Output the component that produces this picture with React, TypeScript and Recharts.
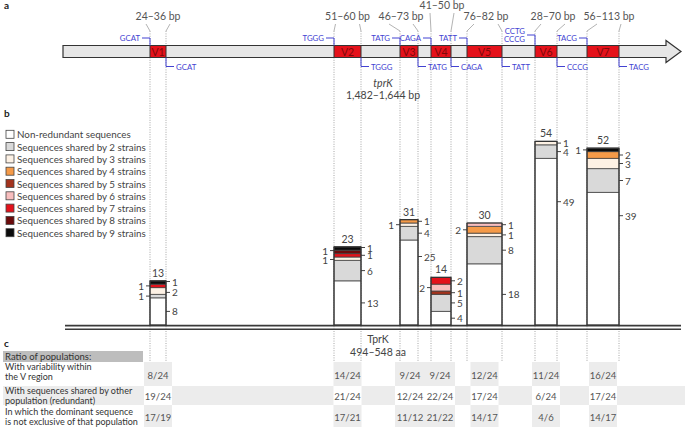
import { ComposedChart, ReferenceArea, XAxis, YAxis } from "recharts";

const FONT = "Lato, 'Open Sans', sans-serif";
const INK = "#444";
const BLUE = "#4343d2";

// gene layout: V regions along the tprK schematic (diagram units)
const regions = ["V1", "V2", "V3", "V4", "V5", "V6", "V7"];
const regionStart = [150, 334, 400, 431, 467, 535, 587];
const regionEnd = [166, 361, 418, 451, 502, 557, 619];
const regionSizes = ["24–36 bp", "51–60 bp", "46–73 bp", "41–50 bp", "76–82 bp", "28–70 bp", "56–113 bp"];
const motifBefore = [["GCAT"], ["TGGG"], ["TATG"], ["CAGA"], ["TATT"], ["CCTG", "CCCG"], ["TACG"]];
const motifAfter = ["GCAT", "TGGG", "TATG", "CAGA", "TATT", "CCCG", "TACG"];

// number of sequences per V region, split by how many strains share them
const nonRedundant = [8, 13, 25, 4, 18, 49, 39];
const sharedBy2 = [1, 6, 4, 5, 8, 4, 7];
const sharedBy3 = [2, 1, 1, 0, 1, 1, 3];
const sharedBy4 = [0, 0, 1, 0, 2, 0, 2];
const sharedBy5 = [0, 0, 0, 1, 0, 0, 0];
const sharedBy6 = [0, 0, 0, 2, 1, 0, 0];
const sharedBy7 = [1, 1, 0, 2, 0, 0, 0];
const sharedBy8 = [0, 1, 0, 0, 0, 0, 0];
const sharedBy9 = [1, 1, 0, 0, 0, 0, 1];

const shareNames = [
  "Non-redundant sequences",
  "Sequences shared by 2 strains",
  "Sequences shared by 3 strains",
  "Sequences shared by 4 strains",
  "Sequences shared by 5 strains",
  "Sequences shared by 6 strains",
  "Sequences shared by 7 strains",
  "Sequences shared by 8 strains",
  "Sequences shared by 9 strains",
];
const shareColors = ["#ffffff", "#d9d9d9", "#fdf1e4", "#f59a48", "#a3331d", "#f8bebe", "#e3121b", "#6b0b0b", "#0b0b0b"];

// table (panel c)
const rowLabels = [
  ["With variability within", "the V region"],
  ["With sequences shared by other", "population (redundant)"],
  ["In which the dominant sequence", "is not exclusive of that population"],
];
const withVariability = ["8/24", "14/24", "9/24", "9/24", "12/24", "11/24", "16/24"];
const sharedByOther = ["19/24", "21/24", "12/24", "22/24", "17/24", "6/24", "17/24"];
const dominantNotExclusive = ["17/19", "17/21", "11/12", "21/22", "14/17", "4/6", "14/17"];

// which stacked segments get their count written on the left side, and label nudges (px)
const leftSide: Record<string, number[]> = { V1: [2, 7], V2: [3, 8], V3: [3], V4: [6], V5: [4], V7: [9] };
const labelNudge: Record<string, number> = {
  "V1-9": -1,
  "V1-3": 1.4,
  "V2-9": -1,
  "V2-8": -1.3,
  "V2-3": 0.8,
  "V3-1": -26,
  "V6-1": -40,
  "V7-1": -43,
};
const sizeLabelShift = [0, 0, -8, 1, 1.5, 7, 6];

const levels = [nonRedundant, sharedBy2, sharedBy3, sharedBy4, sharedBy5, sharedBy6, sharedBy7, sharedBy8, sharedBy9];

const rows = regions.map((name, i) => ({
  name,
  start: regionStart[i],
  end: regionEnd[i],
  center: (regionStart[i] + regionEnd[i]) / 2,
  total: levels.reduce((s, l) => s + l[i], 0),
}));

type Segment = { region: string; level: number; x1: number; x2: number; y1: number; y2: number; value: number };
const segments: Segment[] = [];
rows.forEach((r, i) => {
  let base = 0;
  levels.forEach((l, k) => {
    const v = l[i];
    if (!v) return;
    segments.push({ region: r.name, level: k + 1, x1: r.start, x2: r.end, y1: base, y2: base + v, value: v });
    base += v;
  });
});

function segmentLabel(seg: Segment) {
  const left = (leftSide[seg.region] ?? []).includes(seg.level);
  const nudge = labelNudge[`${seg.region}-${seg.level}`] ?? 0;
  return function SegLabel(props: any) {
    const vb = props.viewBox ?? {};
    const cy = vb.y + vb.height / 2 + nudge;
    const x = left ? vb.x : vb.x + vb.width;
    const dir = left ? -1 : 1;
    return (
      <g>
        <line x1={x} x2={x + dir * 4} y1={cy} y2={cy} stroke={INK} strokeWidth={1} />
        <text
          x={x + dir * 6}
          y={cy}
          textAnchor={left ? "end" : "start"}
          dominantBaseline="central"
          fontFamily={FONT}
          fontSize={10}
          fill={INK}
        >
          {seg.value}
        </text>
      </g>
    );
  };
}

function totalLabel(total: number) {
  return function TotalLabel(props: any) {
    const vb = props.viewBox ?? {};
    return (
      <text x={vb.x + vb.width / 2} y={vb.y - 4} textAnchor="middle" fontFamily={FONT} fontSize={10.5} fill={INK}>
        {total}
      </text>
    );
  };
}

// table cell spans, centred on each V region, touching when neighbours are close
const cellSpans = rows.map((r) => [r.center - 14, r.center + 14]);
for (let i = 0; i < cellSpans.length - 1; i++) {
  if (cellSpans[i + 1][0] - cellSpans[i][1] < 6) {
    const mid = (cellSpans[i][1] + cellSpans[i + 1][0]) / 2;
    cellSpans[i][1] = mid;
    cellSpans[i + 1][0] = mid;
  }
}

function Schematic() {
  const txt = { fontFamily: FONT, fill: INK } as const;
  const tableRows = [withVariability, sharedByOther, dominantNotExclusive];
  const rowTop = [362, 386, 405];
  const rowBottom = [386, 405, 427];
  return (
    <svg width={685} height={427} style={{ position: "absolute", left: 0, top: 0 }}>
      <rect width={685} height={427} fill="#fff" />
      {/* panel letters */}
      <text x={4} y={9} fontFamily={FONT} fontWeight={700} fontSize={10} fill="#222">a</text>
      <text x={4} y={117} fontFamily={FONT} fontWeight={700} fontSize={10} fill="#222">b</text>
      <text x={4} y={347} fontFamily={FONT} fontWeight={700} fontSize={10} fill="#222">c</text>

      {/* dotted guides and leads from size labels */}
      {rows.map((r, i) => {
        const cx = r.center + sizeLabelShift[i];
        const ly = i === 3 ? 9 : 20;
        return (
          <g key={r.name}>
            {[r.start, r.end].map((b, j) => (
              <g key={j}>
                <line x1={b} x2={b} y1={31} y2={362} stroke="#9c9c9c" strokeWidth={0.9} strokeDasharray="1 1.4" />
                <line x1={cx + (j === 0 ? -12 : 12)} y1={ly + 4} x2={b} y2={31} stroke="#a0a0a0" strokeWidth={0.8} />
              </g>
            ))}
            <text x={cx} y={ly} textAnchor="middle" fontFamily={FONT} fontSize={10.5} fill="#555">
              {regionSizes[i]}
            </text>
          </g>
        );
      })}

      {/* gene arrow */}
      <path d="M63,45.5 H666 V40.5 L681,51.5 L666,62.5 V57.5 H63 Z" fill="#e6e6e6" stroke="#333" strokeWidth={1.2} />
      {rows.map((r, i) => (
        <g key={r.name}>
          <rect x={r.start} y={45.5} width={r.end - r.start} height={12} fill="#e5121b" stroke="#333" strokeWidth={1} />
          <text x={r.center} y={51.8} textAnchor="middle" dominantBaseline="central" fontFamily={FONT} fontSize={10.5} fill="#7d0a0a">
            {r.name}
          </text>
          {/* motif before the region */}
          {(() => {
            const lines = motifBefore[i];
            const yl = lines.length > 1 ? 35 : 38;
            return (
              <g>
                <path d={`M${r.start - 8},${yl} H${r.start} V45.5`} fill="none" stroke={BLUE} strokeWidth={1} />
                {lines.map((m, k) => (
                  <text
                    key={k}
                    x={r.start - 10}
                    y={lines.length > 1 ? 31 + k * 7.6 : yl}
                    textAnchor="end"
                    dominantBaseline="central"
                    fontFamily={FONT}
                    fontSize={7.8}
                    fill={BLUE}
                  >
                    {m}
                  </text>
                ))}
              </g>
            );
          })()}
          {/* motif after the region */}
          <path d={`M${r.end},57.5 V66.5 H${r.end + 8}`} fill="none" stroke={BLUE} strokeWidth={1} />
          <text x={r.end + 10} y={66.5} dominantBaseline="central" fontFamily={FONT} fontSize={7.8} fill={BLUE}>
            {motifAfter[i]}
          </text>
        </g>
      ))}
      <text x={383} y={87} textAnchor="middle" fontFamily={FONT} fontStyle="italic" fontSize={10.5} fill={INK}>tprK</text>
      <text x={383} y={99} textAnchor="middle" fontFamily={FONT} fontSize={10.5} fill={INK}>1,482–1,644 bp</text>

      {/* legend */}
      {shareNames.map((n, k) => (
        <g key={n}>
          <rect x={6} y={130.3 + k * 12.3} width={8} height={8} fill={shareColors[k]} stroke={INK} strokeWidth={0.8} />
          <text x={17} y={134.3 + k * 12.3} dominantBaseline="central" {...txt} fontSize={9.8}>
            {n}
          </text>
        </g>
      ))}

      {/* protein baseline */}
      <line x1={65} x2={681} y1={325.6} y2={325.6} stroke="#3a3a3a" strokeWidth={1.6} />
      <line x1={65} x2={681} y1={329.2} y2={329.2} stroke="#3a3a3a" strokeWidth={1.6} />
      <text x={378} y={343} textAnchor="middle" {...txt} fontSize={10.5}>TprK</text>
      <text x={378} y={356} textAnchor="middle" {...txt} fontSize={10.5}>494–548 aa</text>

      {/* table */}
      <rect x={3} y={351} width={140} height={11} fill="#bdbdbd" />
      <text x={5} y={359.5} {...txt} fontSize={9.5} fill="#333">Ratio of populations:</text>
      <rect x={3} y={rowTop[1]} width={682} height={rowBottom[1] - rowTop[1]} fill="#ececec" />
      {tableRows.map((vals, ri) => (
        <g key={ri}>
          {vals.map((v, ci) => (
            <g key={ci}>
              <rect
                x={cellSpans[ci][0]}
                y={rowTop[ri]}
                width={cellSpans[ci][1] - cellSpans[ci][0]}
                height={rowBottom[ri] - rowTop[ri]}
                fill={ri === 1 ? "#ffffff" : "#ececec"}
              />
              <text
                x={(cellSpans[ci][0] + cellSpans[ci][1]) / 2}
                y={(rowTop[ri] + rowBottom[ri]) / 2 + 1}
                textAnchor="middle"
                dominantBaseline="central"
                {...txt}
                fill="#555"
                fontSize={9.5}
              >
                {v}
              </text>
            </g>
          ))}
          {rowLabels[ri].map((l, li) => (
            <text key={li} x={5} y={(ri === 0 ? 370 : ri === 1 ? 394 : 415) + li * 9.5} {...txt} fill="#333" fontSize={9}>
              {l}
            </text>
          ))}
        </g>
      ))}
    </svg>
  );
}

export default function App() {
  return (
    <div style={{ position: "absolute", left: 0, top: 0, width: 685, height: 427, background: "#fff", overflow: "hidden" }}>
      <Schematic />
      <div style={{ position: "absolute", left: 0, top: 0 }}>
        <ComposedChart width={685} height={427} data={rows} margin={{ top: 134.6, right: 0, bottom: 102, left: 0 }}>
          <XAxis type="number" dataKey="center" domain={[0, 685]} allowDataOverflow hide />
          <YAxis type="number" domain={[0, 56]} allowDataOverflow hide />
          {segments.map((s) => (
            <ReferenceArea
              key={`${s.region}-${s.level}`}
              x1={s.x1}
              x2={s.x2}
              y1={s.y1}
              y2={s.y2}
              fill={shareColors[s.level - 1]}
              fillOpacity={1}
              stroke={INK}
              strokeWidth={0.8}
              ifOverflow="visible"
              label={segmentLabel(s)}
            />
          ))}
          {rows.map((r) => (
            <ReferenceArea
              key={`outline-${r.name}`}
              x1={r.start}
              x2={r.end}
              y1={0}
              y2={r.total}
              fill="none"
              stroke="#333"
              strokeWidth={1.2}
              ifOverflow="visible"
              label={totalLabel(r.total)}
            />
          ))}
        </ComposedChart>
      </div>
    </div>
  );
}
